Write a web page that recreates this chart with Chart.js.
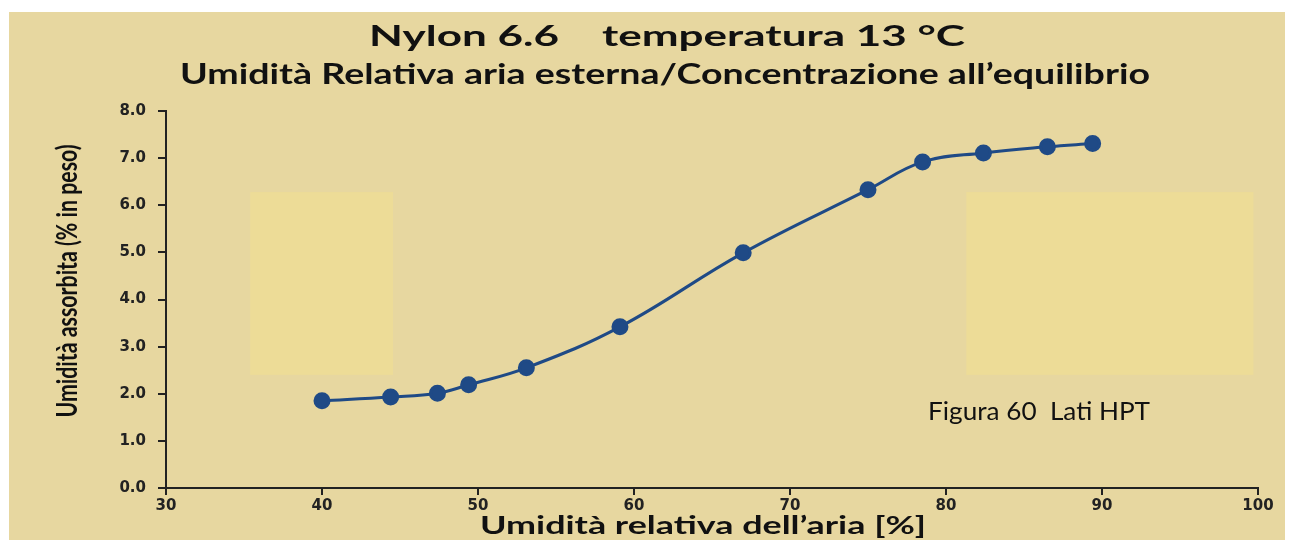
<!DOCTYPE html>
<html>
<head>
<meta charset="utf-8">
<script src="https://cdn.jsdelivr.net/npm/chart.js@4.4.1/dist/chart.umd.min.js"></script>
<style>
  html, body { margin: 0; background: #fff; }
  #wrap { width: 1300px; height: 550px; }
</style>
</head>
<body>
<div id="wrap"><canvas id="nylonChart"></canvas></div>
<script>
// relative humidity of the air (%) and absorbed moisture (% by weight)
const humidity = [40, 44.4, 47.4, 49.4, 53.1, 59.1, 67.0, 75.0, 78.5, 82.4, 86.5, 89.4];
const absorbed = [1.85, 1.93, 2.01, 2.19, 2.55, 3.42, 4.99, 6.33, 6.92, 7.11, 7.24, 7.31];
const xTicks = [30, 40, 50, 60, 70, 80, 90, 100];
const yTicks = [0, 1, 2, 3, 4, 5, 6, 7, 8];

const titleLines = ["Nylon 6.6    temperatura 13 °C", "Umidità Relativa aria esterna/Concentrazione all’equilibrio"];
const xTitle = "Umidità relativa dell’aria [%]";
const yTitle = "Umidità assorbita (% in peso)";
const note = "Figura 60  Lati HPT";

// light patches behind the plot, in data units [x0, x1, y0, y1]
const patches = [[35.4, 44.55, 2.4, 6.28], [81.3, 99.7, 2.4, 6.28]];

// the source text is a wide-stretched Calibri; squeeze/stretch Lato to the same width
function wideText(c, text, cx, cy, font, width, angle) {
  c.save();
  c.font = font;
  const w = c.measureText(text).width;
  c.translate(cx, cy);
  if (angle) c.rotate(angle);
  c.scale(width / w, 1);
  c.textAlign = "center";
  c.textBaseline = "middle";
  c.fillText(text, 0, 0);
  c.restore();
}

const panel = {
  id: "panel",
  beforeDraw(chart) {
    const c = chart.ctx;
    c.save();
    c.fillStyle = "#fff";
    c.fillRect(0, 0, chart.width, chart.height);
    c.fillStyle = "#e7d7a0";
    c.fillRect(9, 12, 1276, 528);
    c.restore();
  },
  beforeDatasetsDraw(chart) {
    const { ctx: c, scales: { x, y } } = chart;
    c.save();
    c.fillStyle = "#eddc97";
    patches.forEach(p => {
      const l = x.getPixelForValue(p[0]), r = x.getPixelForValue(p[1]);
      const t = y.getPixelForValue(p[3]), b = y.getPixelForValue(p[2]);
      c.fillRect(l, t, r - l, b - t);
    });
    c.fillStyle = "#111";
    const nx = x.getPixelForValue(78.85), ny = y.getPixelForValue(1.61);
    wideText(c, note, nx + 111, ny, "25px Lato", 222);
    c.restore();
  },
  afterDraw(chart) {
    const c = chart.ctx;
    c.save();
    c.fillStyle = "#111";
    wideText(c, titleLines[0], 667, 37, "bold 28px Lato", 596);
    wideText(c, titleLines[1], 665, 75, "bold 28px Lato", 970);
    wideText(c, xTitle, 703, 526, "bold 24px Lato", 446);
    wideText(c, yTitle, 68, 281, "bold 29px Lato", 273, -Math.PI / 2);
    c.restore();
  }
};

new Chart(document.getElementById("nylonChart"), {
  type: "line",
  data: {
    datasets: [{
      data: humidity.map((h, i) => ({ x: h, y: absorbed[i] })),
      borderColor: "#1f4a86",
      backgroundColor: "#1f4a86",
      borderWidth: 3,
      pointRadius: 7,
      pointHoverRadius: 7,
      tension: 0.4,
      fill: false
    }]
  },
  options: {
    responsive: true,
    maintainAspectRatio: false,
    animation: false,
    layout: { padding: { left: 0, right: 42, top: 111, bottom: 0 } },
    plugins: {
      legend: { display: false },
      tooltip: { enabled: false },
      title: { display: false }
    },
    scales: {
      x: {
        type: "linear",
        min: 30, max: 100,
        afterBuildTicks: s => { s.ticks = xTicks.map(v => ({ value: v })); },
        afterFit: s => { s.height = 62; },
        grid: { drawOnChartArea: false, tickLength: 7, color: "#222", lineWidth: 2 },
        border: { color: "#222", width: 2 },
        ticks: { color: "#222", padding: 2, font: { family: "DejaVu Sans", size: 15, weight: "bold" } }
      },
      y: {
        min: 0, max: 8,
        afterBuildTicks: s => { s.ticks = yTicks.map(v => ({ value: v })); },
        afterFit: s => { s.width = 166; },
        grid: { drawOnChartArea: false, tickLength: 8, color: "#222", lineWidth: 2 },
        border: { color: "#222", width: 2 },
        ticks: {
          color: "#222", padding: 12,
          font: { family: "DejaVu Sans", size: 15, weight: "bold" },
          callback: v => v.toFixed(1)
        }
      }
    }
  },
  plugins: [panel]
});
</script>
</body>
</html>
